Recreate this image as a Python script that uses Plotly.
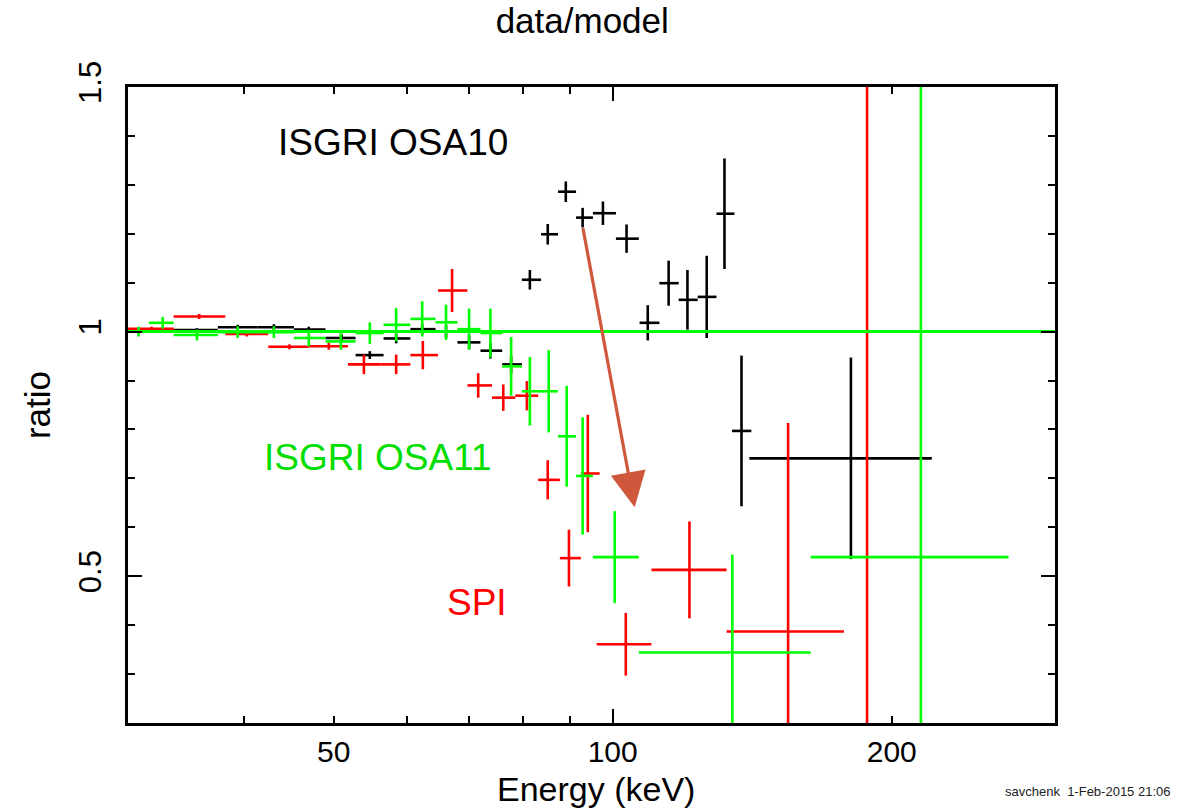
import math
import plotly.graph_objects as go

# ---------------- data (energy in keV, data/model ratio) ----------------
# ISGRI OSA10 (black)
osa10_e   = [30.8, 32.7, 35.6, 39.4, 43.1, 47.0, 51.0, 54.7, 58.4, 62.3, 66.1, 70.0, 73.8, 77.7,
             81.4, 85.1, 89.0, 92.8, 97.6, 103.5, 109.1, 114.9, 120.4, 126.3, 132.0, 137.7, 180.7]
osa10_lo  = [30.0, 31.6, 33.6, 37.5, 41.4, 45.3, 49.0, 52.8, 56.6, 60.5, 64.4, 68.0, 72.0, 76.0,
             79.8, 83.7, 87.3, 91.3, 95.2, 100.8, 106.9, 112.3, 117.8, 123.5, 129.4, 134.5, 140.4]
osa10_hi  = [31.6, 33.6, 37.5, 41.4, 45.3, 49.0, 52.8, 56.6, 60.5, 64.4, 68.0, 72.0, 76.0, 79.8,
             83.7, 87.3, 91.3, 95.2, 100.8, 106.7, 112.3, 117.8, 123.5, 129.4, 135.3, 141.1, 220.9]
osa10_r   = [1.003, 1.004, 1.003, 1.009, 1.009, 1.004, 0.987, 0.952, 0.986, 1.005, 1.000, 0.978, 0.961, 0.933,
             1.106, 1.199, 1.286, 1.233, 1.242, 1.190, 1.018, 1.099, 1.065, 1.071, 1.241, 0.797, 0.741]
osa10_err = [0.005, 0.005, 0.004, 0.005, 0.006, 0.006, 0.007, 0.008, 0.010, 0.011, 0.013, 0.014, 0.016, 0.018,
             0.020, 0.021, 0.021, 0.020, 0.024, 0.029, 0.036, 0.046, 0.061, 0.084, 0.113, 0.154, 0.206]

# SPI (red)
spi_e   = [31.8, 35.8, 40.3, 44.8, 49.4, 53.9, 58.4, 62.4, 67.1, 71.6, 76.2, 80.8, 85.1, 89.7,
           94.0, 103.3, 121.0, 154.6, 188.1]
spi_lo  = [30.0, 33.6, 38.2, 42.5, 47.0, 51.8, 56.2, 60.5, 64.8, 69.7, 74.1, 78.5, 83.1, 87.7,
           92.4, 96.1, 110.1, 132.7, 177.6]
spi_hi  = [33.6, 38.2, 42.5, 47.0, 51.8, 56.2, 60.5, 64.8, 69.7, 74.1, 78.5, 83.1, 87.7, 92.4,
           96.8, 110.1, 132.7, 177.6, 199.0]
spi_r   = [1.006, 1.031, 0.995, 0.969, 0.970, 0.933, 0.933, 0.952, 1.084, 0.890, 0.865, 0.869, 0.697, 0.537,
           0.710, 0.361, 0.513, 0.387, -0.500]
spi_err = [0.004, 0.005, 0.005, 0.005, 0.007, 0.020, 0.020, 0.029, 0.044, 0.025, 0.027, 0.030, 0.040, 0.058,
           0.120, 0.064, 0.099, 0.426, 2.500]

# ISGRI OSA11 (green)
osa11_e   = [30.8, 32.7, 35.6, 39.4, 43.1, 47.0, 50.9, 54.7, 58.4, 62.3, 66.1, 70.0, 73.8, 77.7,
             81.4, 85.3, 89.2, 92.8, 100.5, 134.6, 215.0]
osa11_lo  = [30.0, 31.6, 33.6, 37.5, 41.4, 45.3, 49.0, 52.8, 56.6, 60.5, 64.4, 68.0, 72.0, 76.0,
             79.8, 83.7, 87.3, 91.3, 95.2, 106.7, 163.5]
osa11_hi  = [31.6, 33.6, 37.5, 41.4, 45.3, 49.0, 52.8, 56.6, 60.5, 64.4, 68.0, 72.0, 76.0, 79.8,
             83.7, 87.3, 91.3, 95.2, 106.7, 163.5, 267.3]
osa11_r   = [1.000, 1.018, 0.993, 0.999, 0.999, 0.987, 0.980, 0.997, 1.014, 1.026, 1.019, 1.005, 0.997, 0.929,
             0.878, 0.878, 0.786, 0.705, 0.539, 0.344, 0.539]
osa11_err = [0.010, 0.012, 0.011, 0.012, 0.012, 0.017, 0.017, 0.022, 0.034, 0.036, 0.036, 0.042, 0.050, 0.060,
             0.070, 0.084, 0.103, 0.120, 0.094, 0.200, 1.600]

# model reference line (ratio = 1)
model_e = [30.0, 300.0]
model_r = [1.0, 1.0]

x_range = [30.0, 300.0]
y_range = [0.2, 1.5]
x_minor_ticks = [40, 60, 70, 80, 90]
x_label_ticks = [50, 100, 200]
y_major_ticks = [0.5, 1.0, 1.5]

FONT = "Liberation Sans, Arial, Helvetica, sans-serif"


def crosses(e, lo, hi, r, err, color, axis="x"):
    return go.Scatter(
        x=e, y=r, xaxis=axis, mode="markers",
        marker=dict(size=1, color=color, opacity=0),
        error_x=dict(type="data", symmetric=False,
                     array=[h - c for h, c in zip(hi, e)],
                     arrayminus=[c - l for c, l in zip(e, lo)],
                     color=color, thickness=2.6, width=0),
        error_y=dict(type="data", array=err, color=color, thickness=2.6, width=0),
        hoverinfo="skip", showlegend=False,
    )


fig = go.Figure()
fig.add_trace(crosses(osa10_e, osa10_lo, osa10_hi, osa10_r, osa10_err, "#000000"))
fig.add_trace(crosses(spi_e, spi_lo, spi_hi, spi_r, spi_err, "#FF0000"))
fig.add_trace(crosses(osa11_e, osa11_lo, osa11_hi, osa11_r, osa11_err, "#00FF00"))
fig.add_trace(go.Scatter(x=model_e, y=model_r, xaxis="x2", mode="lines",
                         line=dict(color="#00FF00", width=3), hoverinfo="skip", showlegend=False))

lx = [math.log10(v) for v in x_range]

fig.update_layout(
    width=1178, height=811,
    margin=dict(l=128, r=123, t=87, b=88),
    plot_bgcolor="white", paper_bgcolor="white",
    font=dict(family=FONT, color="black"),
    showlegend=False,
    title=dict(text="data/model", x=0.49, xref="paper", y=1 - 21 / 811, yref="container",
               xanchor="center", yanchor="middle", font=dict(size=35, family=FONT, color="black")),
    xaxis=dict(
        type="log", range=lx, automargin=False,
        tickvals=x_minor_ticks + x_label_ticks,
        ticktext=[""] * len(x_minor_ticks) + [str(v) for v in x_label_ticks],
        ticks="inside", ticklen=7, tickwidth=2, tickcolor="black",
        showline=True, linewidth=3, linecolor="black", mirror="ticks",
        showgrid=False, zeroline=False,
        tickfont=dict(size=30, family=FONT, color="black"),
        ticklabelstandoff=0,
    ),
    xaxis2=dict(
        type="log", range=lx, overlaying="x", anchor="y", side="bottom", automargin=False,
        tickvals=[100], ticktext=[""], ticks="inside", ticklen=14, tickwidth=2, tickcolor="black",
        showline=False, mirror="ticks", showgrid=False, zeroline=False, showticklabels=False,
    ),
    yaxis=dict(
        range=y_range, automargin=False,
        tickvals=y_major_ticks, ticktext=["0.5", "1", "1.5"],
        ticks="inside", ticklen=14, tickwidth=2, tickcolor="black", tickangle=-90,
        minor=dict(dtick=0.1, tick0=0, ticks="inside", ticklen=7, tickwidth=2, tickcolor="black", showgrid=False),
        showline=True, linewidth=3, linecolor="black", mirror="ticks",
        showgrid=False, zeroline=False,
        tickfont=dict(size=31, family=FONT, color="black"),
        ticklabelstandoff=12,
        title=dict(text="ratio", font=dict(size=35, family=FONT, color="black"), standoff=12),
    ),
)

# x-axis title as a paper annotation (placed under tick labels)
fig.add_annotation(x=0.505, y=-0.103, xref="paper", yref="paper", text="Energy (keV)",
                   showarrow=False, xanchor="center", yanchor="middle",
                   font=dict(size=34, family=FONT, color="black"))

# text labels
fig.add_annotation(x=math.log10(43.3), y=1.386, text="ISGRI OSA10", showarrow=False,
                   xanchor="left", yanchor="middle", font=dict(size=37, family=FONT, color="black"))
fig.add_annotation(x=math.log10(41.8), y=0.743, text="ISGRI OSA11", showarrow=False,
                   xanchor="left", yanchor="middle", font=dict(size=37, family=FONT, color="#00DD00"))
fig.add_annotation(x=math.log10(66.0), y=0.447, text="SPI", showarrow=False,
                   xanchor="left", yanchor="middle", font=dict(size=37, family=FONT, color="#FF0000"))

# arrow
fig.add_annotation(x=math.log10(105.6), y=0.641, ax=math.log10(92.8), ay=1.215,
                   xref="x", yref="y", axref="x", ayref="y", text="",
                   showarrow=True, arrowhead=2, arrowsize=2.2, arrowwidth=3.2,
                   arrowcolor="#CF573C", standoff=0)

# footer stamp
fig.add_annotation(x=1.127, y=-0.108, xref="paper", yref="paper", text="savchenk  1-Feb-2015 21:06",
                   showarrow=False, xanchor="right", yanchor="middle",
                   font=dict(size=13, family=FONT, color="#222222"))

fig.write_html("out.html")
